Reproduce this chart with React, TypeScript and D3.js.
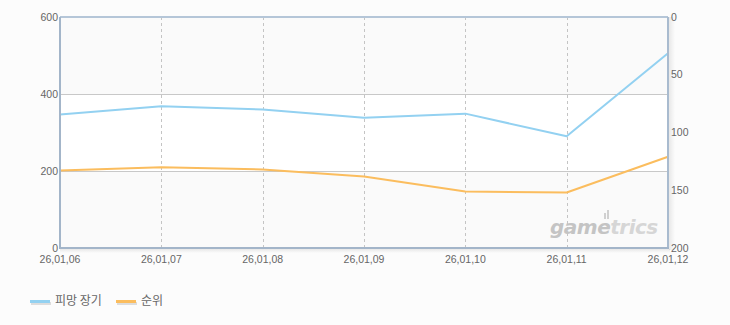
import React from "react";
import * as d3 from "d3";

const dates = ["26,01,06", "26,01,07", "26,01,08", "26,01,09", "26,01,10", "26,01,11", "26,01,12"];
const usage = [347, 368, 360, 338, 349, 290, 506];
const rank = [133, 130, 132, 138, 151, 152, 121];
const leftTicks = [0, 200, 400, 600];
const rightTicks = [0, 50, 100, 150, 200];
const seriesNames = ["피망 장기", "순위"];
const seriesColors = ["#93d1f1", "#fbbd5e"];

const W = 730, H = 325;
const M = { left: 60, right: 668, top: 17, bottom: 248 };

export default function App() {
  const x = d3.scalePoint<string>().domain(dates).range([M.left, M.right]);
  const yL = d3.scaleLinear().domain([0, 600]).range([M.bottom, M.top]);
  const yR = d3.scaleLinear().domain([0, 200]).range([M.top, M.bottom]);
  const line = d3.line<[number, number]>().x(d => d[0]).y(d => d[1]);
  const usagePts = usage.map((v, i) => [x(dates[i])!, yL(v)] as [number, number]);
  const rankPts = rank.map((v, i) => [x(dates[i])!, yR(v)] as [number, number]);
  const font = "'Liberation Sans', Arial, sans-serif";
  const bands = [[0, 200], [400, 600]];
  return (
    <div style={{ position: "absolute", left: 0, top: 0, width: W, height: H, background: "#fcfcfc" }}>
      <svg width={W} height={H} style={{ display: "block" }}>
        <defs>
          <linearGradient id="shR" x1="0" x2="1" y1="0" y2="0">
            <stop offset="0" stopColor="#000" stopOpacity="0.08" />
            <stop offset="1" stopColor="#000" stopOpacity="0" />
          </linearGradient>
          <linearGradient id="shB" x1="0" x2="0" y1="0" y2="1">
            <stop offset="0" stopColor="#000" stopOpacity="0.08" />
            <stop offset="1" stopColor="#000" stopOpacity="0" />
          </linearGradient>
        </defs>
        <rect x={0} y={0} width={W} height={H} fill="#fcfcfc" />
        <rect x={M.left} y={M.top} width={M.right - M.left} height={M.bottom - M.top} fill="#ffffff" />
        {bands.map((b, i) => (
          <rect key={i} x={M.left} y={yL(b[1])} width={M.right - M.left} height={yL(b[0]) - yL(b[1])} fill="#fafafa" />
        ))}
        {leftTicks.filter(t => t > 0 && t < 600).map(t => (
          <line key={t} x1={M.left} x2={M.right} y1={Math.round(yL(t)) + 0.5} y2={Math.round(yL(t)) + 0.5} stroke="#c8c8c8" strokeWidth={1} />
        ))}
        {dates.slice(1, -1).map(d => (
          <line key={d} x1={Math.round(x(d)!) + 0.5} x2={Math.round(x(d)!) + 0.5} y1={M.top} y2={M.bottom} stroke="#c4c4c4" strokeWidth={1} strokeDasharray="3,3" />
        ))}
        {/* watermark */}
        <text x={550} y={234} fontFamily="'DejaVu Sans', sans-serif" fontStyle="italic" fontWeight="bold" fontSize={20} letterSpacing={-0.5}>
          <tspan fill="#c4c4c4">game</tspan><tspan fill="#d6d6d6">trics</tspan>
        </text>
        <rect x={604} y={213} width={2} height={6} fill="#d0d0d0" />
        <rect x={607} y={210} width={2} height={9} fill="#d0d0d0" />
        {/* shadows */}
        <rect x={M.right + 1} y={M.top} width={6} height={M.bottom - M.top + 2} fill="url(#shR)" />
        <rect x={M.left} y={M.bottom + 1} width={M.right - M.left + 2} height={4} fill="url(#shB)" />
        {/* lines */}
        <path d={line(usagePts)!} fill="none" stroke={seriesColors[0]} strokeWidth={2} strokeLinejoin="round" />
        <path d={line(rankPts)!} fill="none" stroke={seriesColors[1]} strokeWidth={2} strokeLinejoin="round" />
        {/* frame */}
        <line x1={M.left} x2={M.right} y1={M.top} y2={M.top} stroke="#b5c6d8" strokeWidth={2} />
        <line x1={M.left} x2={M.left} y1={M.top} y2={M.bottom + 1} stroke="#a3b5c9" strokeWidth={2} />
        <line x1={M.right} x2={M.right} y1={M.top} y2={M.bottom + 1} stroke="#a9bbcf" strokeWidth={2} />
        <line x1={M.left - 1} x2={M.right + 1} y1={M.bottom} y2={M.bottom} stroke="#a3b5c9" strokeWidth={2} />
        {/* left ticks */}
        {leftTicks.map(t => (
          <text key={t} x={M.left - 2} y={yL(t)} dy="0.35em" textAnchor="end" fontFamily={font} fontSize={10.5} fill="#666">{t}</text>
        ))}
        {rightTicks.map(t => (
          <text key={t} x={M.right + 3} y={yR(t)} dy="0.35em" textAnchor="start" fontFamily={font} fontSize={10.5} fill="#666">{t}</text>
        ))}
        {dates.map(d => (
          <text key={d} x={x(d)!} y={259} dy="0.35em" textAnchor="middle" fontFamily={font} fontSize={10.5} fill="#666">{d}</text>
        ))}
        {/* legend */}
        {seriesNames.map((n, i) => {
          const lx = i === 0 ? 30 : 116;
          return (
            <g key={n}>
              <rect x={lx + 1} y={302} width={20} height={3} fill="#ddd" />
              <rect x={lx} y={300} width={20} height={3} fill={seriesColors[i]} />
              <text x={lx + 25} y={301} dy="0.35em" fontFamily="'Noto Sans CJK KR', sans-serif" fontSize={12} fill="#666">{n}</text>
            </g>
          );
        })}
      </svg>
    </div>
  );
}
